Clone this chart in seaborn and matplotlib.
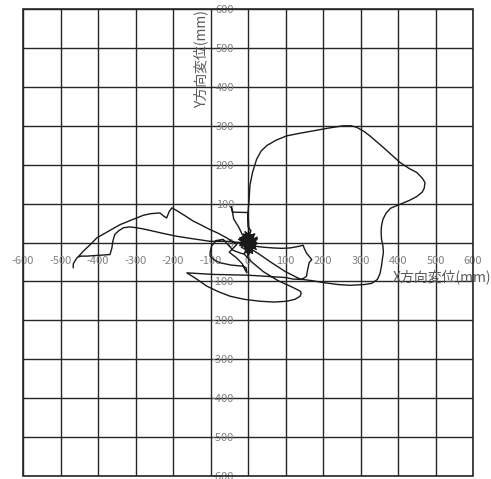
import matplotlib
matplotlib.use('Agg')
import matplotlib.pyplot as plt
import seaborn as sns
from matplotlib.patches import Rectangle

# trajectory (mm), in drawing order
x_mm = [
    # hook at the far left, then the lower left line back to the centre
    -466, -466, -462, -455, -445, -430, -400, -368, -363, -360, -355, -345, -332,
    -315, -297, -275, -252, -220, -190, -150, -101, -57, -20, 0,
    # jitter at the centre
    15, -10, 20, -15, 5, 10, -20, 25, -5, 15, -10, 0, 20, -15, 5,
    -25, 22, -8, 12, -18, 24, 0, -12, 18, -22, 8,
    # little box above the centre
    0, 0, -40, -45, -42, -38, -25, -15, 0, 2, 0,
    # big loop to the upper right
    3, 5, 12, 23, 35, 50, 75, 103, 140, 174, 215, 254, 275, 290, 310, 325, 360,
    405, 430, 450, 465, 472, 470, 465, 450, 430, 400, 380, 368, 360, 356, 355, 356,
    360, 361, 358, 356, 352, 345, 330, 310, 272, 240, 201, 170, 139,
    # diagonal back to the centre
    100, 60, 30, 10, 0,
    # jitter again
    -15, 20, -5, 10, -20, 15, 5, -22, 18, -10, 24, -6,
    # right arm with the notch
    14, 40, 67, 90, 112, 135, 147, 150, 156, 165, 170, 163, 161, 158, 156, 143,
    # flat line to the lower left tip
    120, 100, 50, 0, -50, -92, -130, -163,
    # lower loop
    -140, -110, -80, -48, -10, 32, 70, 103, 125, 139, 142, 139, 125, 112, 80, 41,
    10, -10, -21,
    # U shape left of the centre
    -40, -66, -85, -97, -101, -101, -90, -75, -45, -12, -5, -3, -8, -15, -30,
    -50, -30,
    # upper left line out to the peak and down to the hook
    -57, -80, -101, -125, -146, -170, -190, -203, -210, -217, -225, -235, -260,
    -279, -310, -341, -370, -403, -420, -439, -452,
]
y_mm = [
    -65, -55, -48, -38, -35, -35, -33, -31, -14, 5, 21, 30, 38,
    40, 38, 34, 29, 22, 16, 10, 3, 3, 0, 0,
    20, -15, -5, 10, 25, -25, 0, 10, -20, 15, 20, -30, 5, -5, 10,
    8, -18, 28, -28, -12, 14, -35, 22, 0, -8, 30,
    40, 77, 78, 92, 80, 60, 40, 20, 10, 40, 77,
    110, 146, 180, 214, 235, 249, 263, 274, 281, 287, 294, 300, 300, 296, 285, 274, 245,
    206, 190, 180, 165, 154, 140, 130, 118, 108, 96, 88, 75, 60, 43, 25, 9,
    -10, -26, -45, -60, -80, -95, -105, -108, -110, -108, -103, -98, -94,
    -75, -50, -30, -18, -5,
    15, -10, -25, 20, -5, 5, -15, 12, 22, -28, -2, 26,
    -9, -12, -14, -15, -14, -10, -7, -15, -27, -38, -44, -52, -61, -75, -87, -95,
    -94, -90, -87, -84, -83, -82, -80, -78,
    -92, -112, -126, -138, -146, -151, -153, -151, -146, -138, -130, -125, -118, -112, -98, -75,
    -50, -30, -27,
    -20, 8, 5, -9, -25, -35, -45, -52, -58, -61, -65, -78, -70, -55, -40,
    -25, -5,
    12, 24, 33, 45, 55, 70, 82, 89, 80, 63, 68, 76, 74,
    70, 58, 46, 30, 12, -5, -22, -36,
]

ticks = list(range(-600, 601, 100))
tick_labels = [str(t) for t in ticks]

sns.set_style('white')
plt.rcParams['font.family'] = ['Noto Sans CJK JP', 'DejaVu Sans']

fig = plt.figure(figsize=(4.91, 4.79), dpi=100)
ax = fig.add_axes([23 / 491, 3 / 479, 450 / 491, 467 / 479])

sns.lineplot(x=x_mm, y=y_mm, sort=False, estimator=None, color='#1a1a1a',
             linewidth=1.0, ax=ax)

ax.set_xlim(-600, 600)
ax.set_ylim(-600, 600)
ax.set_xticks(ticks)
ax.set_yticks(ticks)
ax.set_xticklabels(tick_labels)
ax.set_yticklabels(tick_labels)

# tick labels sit on the zero lines, like the Excel chart
ax.spines['bottom'].set_position(('data', 0))
ax.spines['left'].set_position(('data', 0))
for side in ['bottom', 'left', 'top', 'right']:
    ax.spines[side].set_visible(False)
ax.tick_params(axis='both', length=0, labelsize=8, labelcolor='#808080')
ax.tick_params(axis='x', pad=9.5)
ax.tick_params(axis='y', pad=10)

ax.grid(True, color='#262626', linewidth=1.0)
ax.set_axisbelow(True)
ax.add_patch(Rectangle((0, 0), 1, 1, transform=ax.transAxes, fill=False,
                       edgecolor='#262626', linewidth=1.2, clip_on=False))

ax.set_xlabel('')
ax.set_ylabel('')
ax.text(387, -87, 'X方向変位(mm)', fontsize=10, color='#595959',
        ha='left', va='center')
ax.text(-125, 598, 'Y方向変位(mm)', fontsize=10, color='#595959',
        ha='center', va='top', rotation=90)

plt.savefig('out.png', dpi=100)
